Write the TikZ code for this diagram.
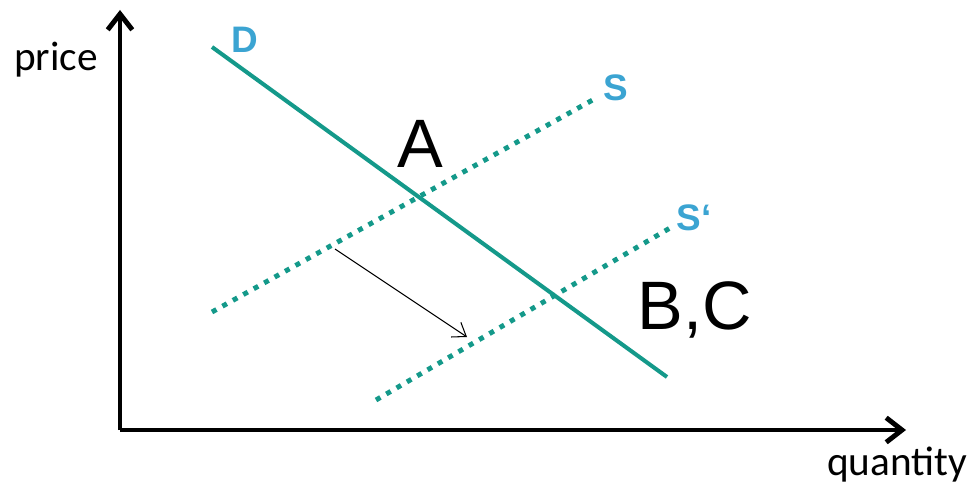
\documentclass[tikz,border=0pt]{standalone}
\usepackage{fontspec}
\setmainfont{Carlito}
\newfontfamily\arialfont{Liberation Sans}
\usetikzlibrary{arrows.meta, positioning}

\definecolor{curveteal}{HTML}{14998A}
\definecolor{labelblue}{HTML}{3BA4D2}

\begin{document}
\begin{tikzpicture}[x=0.02cm, y=-0.02cm, >=Stealth,
    axis/.style={line width=2.8pt, -{Straight Barb[length=9pt, width=14pt, line width=2.8pt]}},
    demand/.style={curveteal, line width=2.3pt},
    supply/.style={curveteal, line width=2.8pt, dash pattern=on 2.9pt off 3.9pt},
    curvelabel/.style={labelblue, font=\arialfont\fontsize{21}{24}\selectfont\bfseries},
    axislabel/.style={font=\fontsize{23.5}{26}\selectfont},
    pointlabel/.style={font=\arialfont\fontsize{39}{43}\selectfont}]
  \useasboundingbox (0,0) rectangle (972,486);

  % Axes
  \coordinate (origin) at (120,430);
  \coordinate (ytop) at (120,10);
  \coordinate (xend) at (906,430);
  \draw[axis] (origin) -- (ytop);
  \draw[axis] (origin) -- (xend);
  \node[axislabel] (price) at (56,60) {price};
  \node[axislabel] (quantity) at (897,465) {quantity};

  % Demand curve
  \coordinate (d0) at (212,47);
  \coordinate (d1) at (667,377);
  \draw[demand] (d0) -- (d1);
  \node[curvelabel] (dlab) at (245,40) {D};

  % Supply curves (before and after shift)
  \coordinate (s0) at (212,312);
  \coordinate (s1) at (598,97);
  \coordinate (t0) at (376,400);
  \coordinate (t1) at (670,228);
  \draw[supply] (s0) -- (s1);
  \draw[supply] (t0) -- (t1);
  \node[curvelabel] (slab) at (616,88) {S};
  \node[curvelabel] (tlab) at (694,218) {S‘};

  % Equilibrium labels
  \node[pointlabel] (ptA) at (420,144) {A};
  \node[pointlabel] (ptBC) at (695,310) {B,C};

  % Shift arrow
  \coordinate (shift0) at (335,249);
  \coordinate (shift1) at (467,337);
  \draw[->, >={Straight Barb[length=7pt, width=10pt]}, line width=0.6pt] (shift0) -- (shift1);
\end{tikzpicture}
\end{document}
